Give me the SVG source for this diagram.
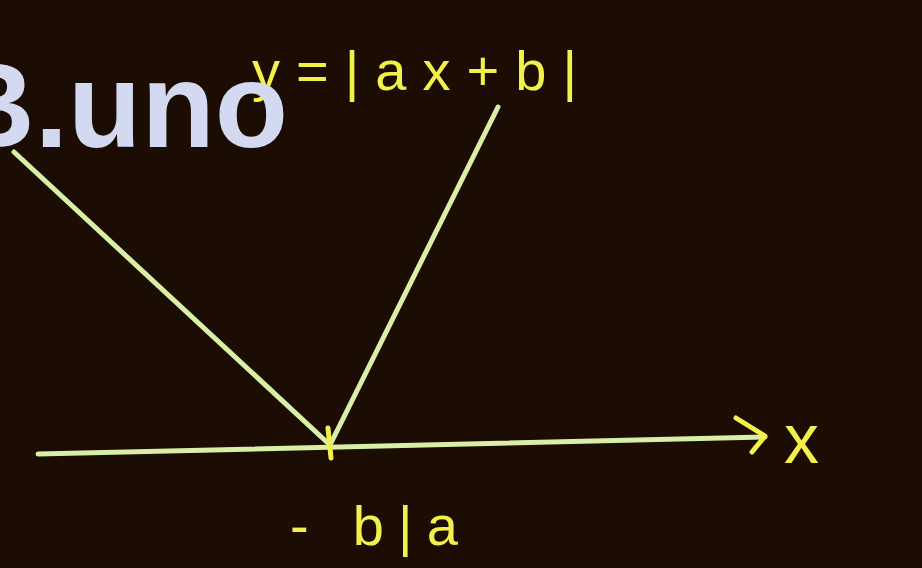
<svg xmlns="http://www.w3.org/2000/svg" width="922" height="568" viewBox="0 0 922 568">
<style>
.ln{stroke:#d9efa6;stroke-width:5;stroke-linecap:round;fill:none}
.hw{stroke:#f2f04a;stroke-width:5;stroke-linecap:round;stroke-linejoin:round;fill:none}
.tx{font-family:"Liberation Sans",Arial,sans-serif;fill:#f2f04a}
</style>
<rect width="922" height="568" fill="#1b0c04"/>
<g id="label-eq"><text class="tx" x="252" y="90" font-size="56" textLength="325" lengthAdjust="spacing">y=|ax+b|</text></g>
<g id="watermark"><text x="288" y="147" text-anchor="end" font-family="'Liberation Sans',Arial,sans-serif" font-weight="bold" font-size="120" fill="#d3d9f1">B.uno</text></g>
<g id="connectors">
<path class="ln" d="M38 454 L765 437"/>
<path class="hw" d="M736 418 L765 436 L752 452"/>
<path class="ln" d="M14 152 L330 445"/>
<path class="ln" d="M330 445 L498 107"/>
<path class="hw" d="M328 428 L331 458"/>
</g>
<g id="label-x"><text class="tx" x="784" y="463" font-size="70">x</text></g>
<g id="label-root"><text class="tx" x="290" y="545" font-size="56" textLength="168" lengthAdjust="spacing">- b|a</text></g>
</svg>
